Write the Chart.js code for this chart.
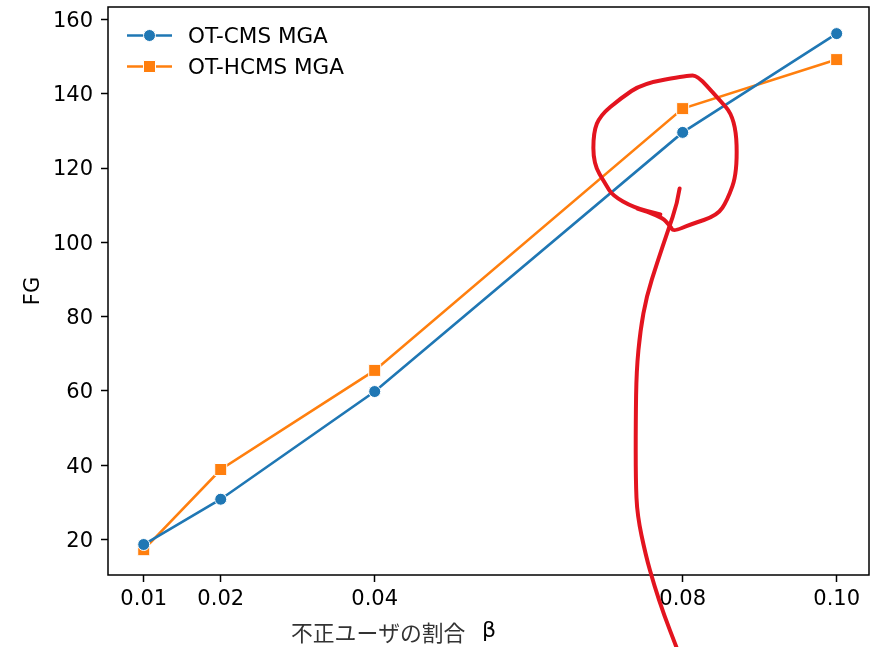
<!DOCTYPE html>
<html lang="ja">
<head>
    <meta charset="UTF-8">
    <title>FG と不正ユーザの割合</title>
    <script src="https://cdn.jsdelivr.net/npm/chart.js"></script>
    <style>
        html, body { margin: 0; padding: 0; background: #fff; }
        .wrap { width: 872px; height: 647px; position: relative; }
    </style>
</head>
<body>
<div class="wrap"><canvas id="fgChart"></canvas></div>
<script>
// --- data ---
const betaValues = [0.01, 0.02, 0.04, 0.08, 0.10];
const cmsMga = [18.6, 30.8, 59.8, 129.6, 156.2];
const hcmsMga = [17.2, 38.8, 65.5, 136.0, 149.2];
const seriesNames = ['OT-CMS MGA', 'OT-HCMS MGA'];
const xTickValues = [0.01, 0.02, 0.04, 0.08, 0.10];
const yTickValues = [20, 40, 60, 80, 100, 120, 140, 160];
const xTitleText = '不正ユーザの割合';
const xTitleSymbol = 'β';
const yTitleText = 'FG';

// red hand-drawn mark, in data units [β, FG]
const markLoop = [
    [0.0741, 109.1], [0.0771, 107.2], [0.0784, 104.3], [0.0788, 102.9],
    [0.0810, 104.8], [0.0845, 107.2], [0.0858, 111.3], [0.0871, 118.8],
    [0.0869, 133.4], [0.0843, 139.5], [0.0819, 144.9], [0.0807, 144.9],
    [0.0748, 142.8], [0.0719, 138.7], [0.0693, 134.2], [0.0684, 129.6],
    [0.0684, 121.2], [0.0700, 115.6], [0.0709, 112.6], [0.0736, 109.4],
    [0.0771, 107.5]
];
const markTail = [
    [0.0796, 114.5], [0.0793, 110.5], [0.0781, 103.2], [0.0767, 94.6],
    [0.0753, 85.4], [0.0745, 76.3], [0.0740, 65.5], [0.0739, 52.0],
    [0.0739, 35.9], [0.0741, 26.5], [0.0752, 15.7], [0.0763, 7.6],
    [0.0776, -0.5], [0.0792, -9.1]
];

const blue = '#1f77b4';
const orange = '#ff7f0e';
const FONT = "'DejaVu Sans', sans-serif";

function toPoints(ys) {
    return betaValues.map((b, i) => ({ x: b, y: ys[i] }));
}

// frame around the plot area
const framePlugin = {
    id: 'frame',
    afterDatasetsDraw(chart) {
        const { ctx, chartArea: a } = chart;
        ctx.save();
        ctx.strokeStyle = '#000';
        ctx.lineWidth = 1.5;
        ctx.strokeRect(a.left, a.top, a.right - a.left, a.bottom - a.top);
        ctx.restore();
    }
};

// matplotlib-like legend: line + marker
const legendPlugin = {
    id: 'mplLegend',
    afterDraw(chart) {
        const ctx = chart.ctx;
        const a = chart.chartArea;
        ctx.save();
        chart.data.datasets.forEach((ds, i) => {
            const y = a.top + 28.5 + i * 31;
            const x0 = 127, x1 = 172, xm = (x0 + x1) / 2;
            ctx.strokeStyle = ds.borderColor;
            ctx.lineWidth = 2.6;
            ctx.beginPath();
            ctx.moveTo(x0, y);
            ctx.lineTo(x1, y);
            ctx.stroke();
            ctx.fillStyle = ds.borderColor;
            ctx.strokeStyle = '#fff';
            ctx.lineWidth = 1;
            ctx.beginPath();
            if (ds.pointStyle === 'rect') {
                ctx.rect(xm - 6, y - 6, 12, 12);
            } else {
                ctx.arc(xm, y, 6, 0, Math.PI * 2);
            }
            ctx.fill();
            ctx.stroke();
            ctx.fillStyle = '#000';
            ctx.font = '21.5px ' + FONT;
            ctx.textBaseline = 'middle';
            ctx.textAlign = 'left';
            ctx.fillText(ds.label, 188, y + 1.5);
        });
        ctx.restore();
    }
};

// x axis title (sits left of centre in the reference)
const xTitlePlugin = {
    id: 'xTitle',
    afterDraw(chart) {
        const ctx = chart.ctx;
        ctx.save();
        ctx.textBaseline = 'middle';
        ctx.textAlign = 'left';
        ctx.fillStyle = '#333';
        ctx.font = "21.8px 'Noto Sans CJK JP', sans-serif";
        ctx.fillText(xTitleText, 291, 633);
        ctx.fillStyle = '#000';
        ctx.font = '22px ' + FONT;
        ctx.fillText(xTitleSymbol, 482, 631);
        ctx.restore();
    }
};

// red annotation drawn through the scales
const markPlugin = {
    id: 'redMark',
    afterDraw(chart) {
        const ctx = chart.ctx;
        const xs = chart.scales.x, ys = chart.scales.y;
        const path = (pts) => {
            const p = pts.map(d => [xs.getPixelForValue(d[0]), ys.getPixelForValue(d[1])]);
            ctx.beginPath();
            ctx.moveTo(p[0][0], p[0][1]);
            for (let i = 1; i < p.length - 1; i++) {
                const mx = (p[i][0] + p[i + 1][0]) / 2;
                const my = (p[i][1] + p[i + 1][1]) / 2;
                ctx.quadraticCurveTo(p[i][0], p[i][1], mx, my);
            }
            ctx.lineTo(p[p.length - 1][0], p[p.length - 1][1]);
            ctx.stroke();
        };
        ctx.save();
        ctx.strokeStyle = '#e3141f';
        ctx.lineWidth = 4;
        ctx.lineJoin = 'round';
        ctx.lineCap = 'round';
        path(markLoop);
        path(markTail);
        ctx.restore();
    }
};

function noPad(scale) {
    scale.paddingTop = 0;
    scale.paddingBottom = 0;
    scale.paddingLeft = 0;
    scale.paddingRight = 0;
}

new Chart(document.getElementById('fgChart'), {
    type: 'line',
    data: {
        datasets: [
            {
                label: seriesNames[0],
                data: toPoints(cmsMga),
                borderColor: blue,
                backgroundColor: blue,
                borderWidth: 2.6,
                pointStyle: 'circle',
                pointRadius: 6,
                pointBackgroundColor: blue,
                pointBorderColor: '#fff',
                pointBorderWidth: 1,
                tension: 0
            },
            {
                label: seriesNames[1],
                data: toPoints(hcmsMga),
                borderColor: orange,
                backgroundColor: orange,
                borderWidth: 2.6,
                pointStyle: 'rect',
                pointRadius: 8.5,
                pointBackgroundColor: orange,
                pointBorderColor: '#fff',
                pointBorderWidth: 1,
                tension: 0
            }
        ]
    },
    options: {
        responsive: true,
        maintainAspectRatio: false,
        animation: false,
        layout: { autoPadding: false, padding: { top: 7, right: 3, left: 0, bottom: 0 } },
        plugins: {
            legend: { display: false },
            tooltip: { enabled: false }
        },
        scales: {
            x: {
                type: 'linear',
                min: 0.00536,
                max: 0.10420,
                afterBuildTicks: (s) => { s.ticks = xTickValues.map(v => ({ value: v })); },
                afterFit: (s) => { s.height = 72; noPad(s); },
                ticks: {
                    color: '#000',
                    font: { family: FONT, size: 21 },
                    padding: 5,
                    maxRotation: 0,
                    autoSkip: false,
                    callback: (v) => Number(v).toFixed(2)
                },
                grid: {
                    display: true,
                    drawOnChartArea: false,
                    drawTicks: true,
                    tickLength: 7,
                    tickWidth: 1.5,
                    tickColor: '#000'
                },
                border: { display: false }
            },
            y: {
                type: 'linear',
                min: 10.39,
                max: 163.37,
                afterBuildTicks: (s) => { s.ticks = yTickValues.map(v => ({ value: v })); },
                afterFit: (s) => { s.width = 108; noPad(s); },
                ticks: {
                    color: '#000',
                    // empty first line nudges the label down onto its tick
                    font: { family: FONT, size: 21, lineHeight: '4px' },
                    padding: 8,
                    autoSkip: false,
                    callback: (v) => ['', String(v)]
                },
                grid: {
                    display: true,
                    drawOnChartArea: false,
                    drawTicks: true,
                    tickLength: 7,
                    tickWidth: 1.5,
                    tickColor: '#000'
                },
                border: { display: false },
                title: {
                    display: true,
                    text: yTitleText,
                    color: '#000',
                    font: { family: FONT, size: 21 },
                    padding: { top: 21, bottom: 0 }
                }
            }
        }
    },
    plugins: [framePlugin, legendPlugin, xTitlePlugin, markPlugin]
});
</script>
</body>
</html>
